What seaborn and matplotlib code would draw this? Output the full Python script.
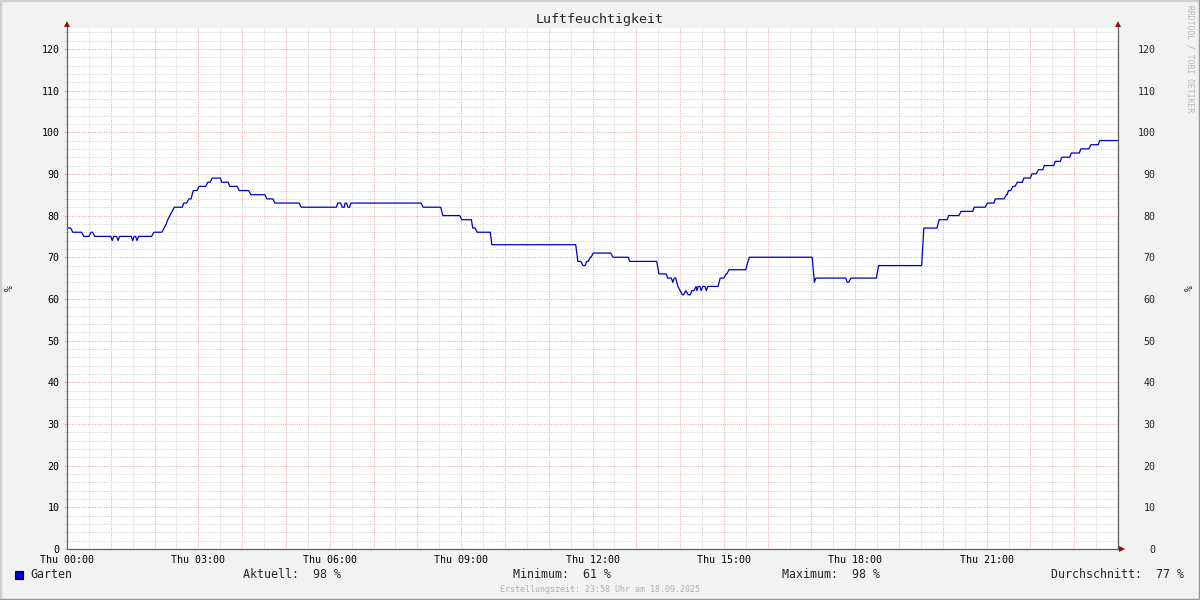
import matplotlib
matplotlib.use('Agg')
import matplotlib.pyplot as plt
from matplotlib.lines import Line2D
from matplotlib.patches import Rectangle
from matplotlib.ticker import FixedLocator, FixedFormatter
import pandas as pd
import seaborn as sns

# ─── Data: minutes since midnight / relative humidity (%) ─────
minutes = [
    0, 5, 8, 20, 23, 30, 33, 35, 38, 60, 62, 64, 68, 70, 72, 88, 90, 92, 94, 96,
    98, 116, 119, 130, 133, 136, 138, 141, 144, 147, 158, 160, 164, 167, 170, 173,
    178, 181, 190, 193, 196, 199, 210, 212, 221, 223, 233, 236, 249, 252, 271, 274,
    282, 285, 318, 321, 369, 371, 375, 377, 380, 381, 383, 385, 387, 389, 485, 488,
    512, 515, 538, 541, 554, 556, 559, 562, 580, 582, 697, 700, 704, 707, 710, 712,
    714, 717, 718, 721, 745, 748, 769, 771, 808, 811, 821, 823, 828, 830, 832, 834,
    837, 840, 843, 845, 848, 851, 854, 856, 859, 862, 863, 865, 867, 869, 871, 874,
    876, 878, 892, 895, 900, 903, 904, 907, 930, 933, 935, 1021, 1024, 1026, 1067,
    1069, 1071, 1074, 1109, 1112, 1171, 1174, 1192, 1195, 1206, 1208, 1222, 1225,
    1241, 1243, 1258, 1261, 1270, 1272, 1284, 1287, 1288, 1290, 1293, 1296, 1299,
    1302, 1309, 1311, 1320, 1322, 1328, 1331, 1337, 1339, 1352, 1354, 1361, 1363,
    1374, 1376, 1387, 1389, 1400, 1403, 1413, 1415, 1440,
]
humidity = [
    77, 77, 76, 76, 75, 75, 76, 76, 75, 75, 74, 75, 75, 74, 75, 75, 74, 75, 75, 74,
    75, 75, 76, 76, 77, 78, 79, 80, 81, 82, 82, 83, 83, 84, 84, 86,
    86, 87, 87, 88, 88, 89, 89, 88, 88, 87, 87, 86, 86, 85, 85, 84,
    84, 83, 83, 82, 82, 83, 83, 82, 82, 83, 83, 82, 82, 83, 83, 82,
    82, 80, 80, 79, 79, 77, 77, 76, 76, 73, 73, 69, 69, 68, 68, 69,
    69, 70, 70, 71, 71, 70, 70, 69, 69, 66, 66, 65, 65, 64, 65, 65,
    63, 62, 61, 61, 62, 61, 61, 62, 62, 63, 62, 63, 63, 62, 63, 63,
    62, 63, 63, 65, 65, 66, 66, 67, 67, 69, 70, 70, 64, 65, 65,
    64, 64, 65, 65, 68, 68, 77, 77, 79, 79, 80, 80, 81,
    81, 82, 82, 83, 83, 84, 84, 85, 85, 86, 86, 87, 87,
    88, 88, 89, 89, 90, 90, 91, 91, 92, 92, 93, 93, 94,
    94, 95, 95, 96, 96, 97, 97, 98, 98,
]

label_hours = [0, 3, 6, 9, 12, 15, 18, 21]
day_name = "Thu"
y_major = list(range(0, 130, 10))
y_minor = list(range(0, 126, 2))

title = "Luftfeuchtigkeit"
unit = "%"
series_name = "Garten"
stat_names = ["Aktuell:", "Minimum:", "Maximum:", "Durchschnitt:"]
stat_values = [98, 61, 98, 77]
footer = "Erstellungszeit: 23:58 Uhr am 18.09.2025"
watermark = "RRDTOOL / TOBI OETIKER"

# ─── Style ────────────────────────────────────────────────────
sns.set_style('white')
plt.rcParams['font.family'] = ['DejaVu Sans Mono']

BG = '#F2F2F2'
LINE = '#0000C8'
MAJOR = '#E8B0B0'
MINOR = '#D4D4D4'
AXIS = '#606060'
ARROW = '#8C1414'

df = pd.DataFrame({'hour': [m / 60 for m in minutes], 'humidity': humidity})

fig = plt.figure(figsize=(12, 6), dpi=100, facecolor=BG)
W, H = 1200, 600
x0, x1, y0, y1 = 67, 1118, 549, 28
ax = fig.add_axes([x0 / W, 1 - y0 / H, (x1 - x0) / W, (y0 - y1) / H])
ax.set_facecolor('white')

sns.lineplot(data=df, x='hour', y='humidity', ax=ax, color=LINE,
             linewidth=0.9, estimator=None, sort=False, legend=False)

ax.set_xlim(0, 24)
ax.set_ylim(0, 125)
ax.set_xlabel('')
ax.set_ylabel('')

# grid: hours major, half hours minor, 10 % major, 2 % minor
major_x = list(range(0, 25))
minor_x = [h + 0.5 for h in range(24)]
ax.xaxis.set_major_locator(FixedLocator(major_x))
ax.xaxis.set_major_formatter(FixedFormatter(
    [f"{day_name} {h:02d}:00" if h in label_hours else '' for h in major_x]))
ax.xaxis.set_minor_locator(FixedLocator(minor_x))
ax.yaxis.set_major_locator(FixedLocator(y_major))
ax.yaxis.set_minor_locator(FixedLocator([v for v in y_minor if v % 10]))

ax.grid(True, which='major', color=MAJOR, linestyle=(0, (1, 1.2)), linewidth=0.75)
ax.grid(True, which='minor', color=MINOR, linestyle=(0, (1, 1.2)), linewidth=0.75)
ax.set_axisbelow(True)

ax.tick_params(axis='x', which='major', length=2, width=0.7, color=MAJOR,
               pad=2, labelsize=7.2, labelcolor='black')
ax.tick_params(axis='x', which='minor', length=2, width=0.7, color=MINOR)
ax.tick_params(axis='y', which='major', length=2, width=0.7, color=MAJOR,
               pad=3.5, labelsize=7.2, labelcolor='black', left=True)
ax.tick_params(axis='y', which='minor', length=2, width=0.7, color=MINOR, left=True)

for s in ax.spines.values():
    s.set_visible(False)

# right hand scale
ax2 = ax.twinx()
ax2.set_ylim(0, 125)
ax2.yaxis.set_major_locator(FixedLocator(y_major))
ax2.tick_params(axis='y', length=0, pad=27, labelsize=7.2)
for lab in ax2.get_yticklabels():
    lab.set_horizontalalignment('right')
for s in ax2.spines.values():
    s.set_visible(False)
ax2.grid(False)

# axis lines with arrows
top_ext = 1 + 4 / (y0 - y1)
right_ext = 1 + 4 / (x1 - x0)
ax.plot([0, 0], [0, top_ext], transform=ax.transAxes, color=AXIS, lw=0.9, clip_on=False)
ax.plot([1, 1], [0, top_ext], transform=ax.transAxes, color=AXIS, lw=0.9, clip_on=False)
ax.plot([0, right_ext], [0, 0], transform=ax.transAxes, color=AXIS, lw=0.9, clip_on=False)
for xa in (0, 1):
    ax.plot(xa, top_ext, marker='^', ms=4.5, color=ARROW, transform=ax.transAxes,
            clip_on=False, markeredgewidth=0)
ax.plot(right_ext, 0, marker='>', ms=4.5, color=ARROW, transform=ax.transAxes,
        clip_on=False, markeredgewidth=0)

# ─── Texts ────────────────────────────────────────────────────
fig.text(0.5, 1 - 19 / H, title, ha='center', va='center', fontsize=9.6)
fig.text(10 / W, 1 - 288 / H, unit, rotation=90, ha='center', va='center', fontsize=7.2)
fig.text(1190 / W, 1 - 288 / H, unit, rotation=90, ha='center', va='center', fontsize=7.2)
fig.text(1190 / W, 1 - 5 / H, watermark, rotation=270, ha='center', va='top',
         fontsize=5.8, color='#B8B8B8')

leg_y = 1 - 575 / H
fig.patches.append(Rectangle((15 / W, 1 - 579 / H), 8 / W, 8 / H, transform=fig.transFigure,
                             facecolor=LINE, edgecolor='black', linewidth=0.8))
fig.text(30 / W, leg_y, series_name, ha='left', va='center', fontsize=8.4)
for xs, name, val in zip([243, 513, 782, 1051], stat_names, stat_values):
    fig.text(xs / W, leg_y, f"{name}  {val} %", ha='left', va='center', fontsize=8.4)
fig.text(0.5, 1 - 589 / H, footer, ha='center', va='center', fontsize=6, color='#B0B0B0')

# frame of the canvas
fig.add_artist(Line2D([0, 1], [1, 1], transform=fig.transFigure, color='#D0D0D0', lw=2.5))
fig.add_artist(Line2D([0, 0], [0, 1], transform=fig.transFigure, color='#D0D0D0', lw=2.5))
fig.add_artist(Line2D([0, 1], [0, 0], transform=fig.transFigure, color='#9A9A9A', lw=2.5))
fig.add_artist(Line2D([1, 1], [0, 1], transform=fig.transFigure, color='#9A9A9A', lw=2.5))

fig.savefig('out.png', dpi=100, facecolor=BG)
